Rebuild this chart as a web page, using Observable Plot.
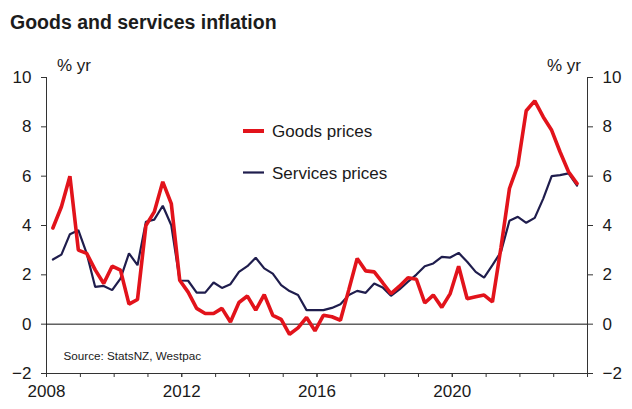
<!DOCTYPE html>
<html>
<head>
<meta charset="utf-8">
<script src="https://cdn.jsdelivr.net/npm/d3@7"></script>
<script src="https://cdn.jsdelivr.net/npm/@observablehq/plot@0.6"></script>
<style>
  html, body { margin: 0; padding: 0; background: #fff; }
  #wrap { position: relative; width: 632px; height: 409px; overflow: hidden; }
  #wrap > svg { position: absolute; left: 0; top: 0; }
  #overlay { pointer-events: none; }
</style>
</head>
<body>
<div id="wrap"></div>
<script>
// Quarterly annual % change, Mar 2008 quarter onward
const startYear = 2008;
const goods = [3.9, 4.76, 6.0, 3.0, 2.87, 2.2, 1.65, 2.35, 2.19, 0.81, 1.0, 4.0, 4.55, 5.77, 4.89, 1.78,
  1.3, 0.64, 0.43, 0.43, 0.64, 0.09, 0.88, 1.14, 0.57, 1.2, 0.36, 0.19, -0.41, -0.15, 0.27, -0.27,
  0.36, 0.30, 0.16, 1.4, 2.66, 2.16, 2.12, 1.68, 1.24, 1.54, 1.88, 1.82, 0.86, 1.18, 0.68, 1.24,
  2.35, 1.03, 1.11, 1.18, 0.9, 3.1, 5.5, 6.45, 8.65, 9.05, 8.4, 7.86, 6.99, 6.18, 5.7];
const services = [2.62, 2.82, 3.65, 3.81, 2.87, 1.51, 1.55, 1.38, 1.85, 2.87, 2.39, 4.15, 4.24, 4.80, 4.01, 1.77,
  1.76, 1.28, 1.28, 1.69, 1.47, 1.62, 2.12, 2.35, 2.69, 2.26, 2.05, 1.58, 1.34, 1.18, 0.57, 0.57,
  0.57, 0.66, 0.81, 1.18, 1.35, 1.27, 1.65, 1.49, 1.15, 1.41, 1.72, 2.01, 2.35, 2.46, 2.73, 2.70,
  2.89, 2.53, 2.12, 1.89, 2.39, 2.93, 4.19, 4.35, 4.11, 4.31, 5.09, 6.0, 6.04, 6.11, 5.62];
const yTicks = [-2, 0, 2, 4, 6, 8, 10];
const xLabelYears = [2008, 2012, 2016, 2020];
const xTickYears = [2008, 2009, 2010, 2011, 2012, 2013, 2014, 2015, 2016, 2017, 2018, 2019, 2020, 2021, 2022, 2023, 2024];
const seriesNames = ["Goods prices", "Services prices"];

const RED = "#e2131b";
const NAVY = "#1f1d4d";
const INK = "#1a1a1a";

const qDate = (i) => new Date(Date.UTC(startYear + Math.floor(i / 4), (i % 4) * 3 + 2, 10));
const rows = goods.map((g, i) => ({date: qDate(i), goods: g, services: services[i]}));
const yr = (y) => new Date(Date.UTC(y, 0, 1));
const x0 = yr(2008), x1 = yr(2024);

const chart = Plot.plot({
  width: 632,
  height: 409,
  marginTop: 77,
  marginBottom: 36,
  marginLeft: 46,
  marginRight: 45,
  style: {fontFamily: "'Liberation Sans', Arial, sans-serif", fontSize: "17px", color: INK, background: "transparent"},
  x: {type: "utc", domain: [x0, x1]},
  y: {domain: [-2, 10]},
  marks: [
    Plot.axisY({anchor: "left", ticks: yTicks, tickSize: 5, tickPadding: 10, label: null, stroke: "#333", fontSize: 17}),
    Plot.axisY({anchor: "right", ticks: yTicks, tickSize: 5, tickPadding: 10, label: null, stroke: "#333", fontSize: 17}),
    Plot.axisX({ticks: xTickYears.map(yr), tickSize: 4, tickFormat: () => "", label: null, stroke: "#333"}),
    Plot.axisX({ticks: xLabelYears.map(yr), tickSize: 4, tickPadding: 7, tickFormat: d3.utcFormat("%Y"), label: null, stroke: "#333", fontSize: 17}),
    Plot.ruleX([x0, x1], {stroke: "#333", strokeWidth: 1}),
    Plot.ruleY([-2], {stroke: "#333", strokeWidth: 1}),
    Plot.ruleY([0], {stroke: "#111", strokeWidth: 1}),
    Plot.line(rows, {x: "date", y: "services", stroke: NAVY, strokeWidth: 2.2, strokeLinejoin: "miter"}),
    Plot.line(rows, {x: "date", y: "goods", stroke: RED, strokeWidth: 3.6, strokeLinejoin: "miter"})
  ]
});

const wrap = document.getElementById("wrap");
wrap.appendChild(chart);

// Overlay: title, unit labels, legend, source
const ns = "http://www.w3.org/2000/svg";
const ov = document.createElementNS(ns, "svg");
ov.setAttribute("id", "overlay");
ov.setAttribute("width", 632);
ov.setAttribute("height", 409);
ov.setAttribute("font-family", "'Liberation Sans', Arial, sans-serif");
function txt(s, x, y, size, weight, fill) {
  const t = document.createElementNS(ns, "text");
  t.setAttribute("x", x); t.setAttribute("y", y);
  t.setAttribute("font-size", size);
  if (weight) t.setAttribute("font-weight", weight);
  t.setAttribute("fill", fill || INK);
  t.textContent = s;
  ov.appendChild(t);
}
function seg(x1, x2, y, color, w) {
  const l = document.createElementNS(ns, "line");
  l.setAttribute("x1", x1); l.setAttribute("x2", x2);
  l.setAttribute("y1", y); l.setAttribute("y2", y);
  l.setAttribute("stroke", color); l.setAttribute("stroke-width", w);
  ov.appendChild(l);
}
txt("Goods and services inflation", 10, 29, 19.5, "bold", "#1c1c1c");
txt("% yr", 57, 71, 17);
txt("% yr", 547, 71, 17);
seg(243, 264, 131, RED, 4);
txt(seriesNames[0], 272, 137, 17);
seg(243, 264, 172.5, NAVY, 2.2);
txt(seriesNames[1], 272, 179, 17);
txt("Source: StatsNZ, Westpac", 63.5, 360, 11.7);
wrap.appendChild(ov);
</script>
</body>
</html>
